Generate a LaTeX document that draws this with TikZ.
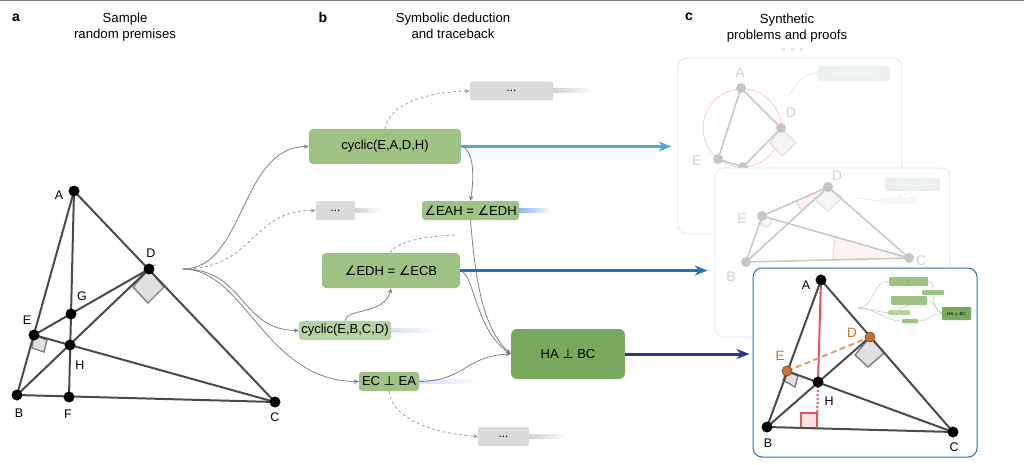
\documentclass[tikz,border=0pt]{standalone}
\usepackage{fontspec}
\setmainfont{Liberation Sans}
\newfontfamily\symfont{DejaVu Sans}
\usetikzlibrary{arrows.meta}
\definecolor{leafgreen}{HTML}{9DC284}
\definecolor{palegreen}{HTML}{B5D3A0}
\definecolor{deepgreen}{HTML}{79A95C}
\definecolor{dotsgrey}{HTML}{DADADA}
\definecolor{linkgrey}{HTML}{7F7F7F}
\definecolor{edgegrey}{HTML}{4A4A4A}
\definecolor{fadegrey}{HTML}{C6C6C6}
\definecolor{fadetext}{HTML}{D2D2D2}
\definecolor{skyarrow}{HTML}{55A6DE}
\definecolor{midarrow}{HTML}{2F6DB5}
\definecolor{navyarrow}{HTML}{2B3590}
\definecolor{proofred}{HTML}{D9595C}
\definecolor{prooforange}{HTML}{D0702C}
\definecolor{cardblue}{HTML}{DCE8F7}
\definecolor{tailblue}{HTML}{8FB4EE}
\definecolor{tailpale}{HTML}{D5E0F6}
\newcommand{\ang}{{\symfont ∠}}
\newcommand{\perpsym}{{\symfont ⊥}}
\newcommand{\pxfont}[1]{\fontsize{#1}{#1}\selectfont}
\tikzset{
    stmt/.style={fill=leafgreen, rounded corners=3pt, inner sep=0pt, text=black, font=\pxfont{13}},
    dotsbox/.style={fill=dotsgrey, rounded corners=2pt, inner sep=0pt, font=\pxfont{12}},
    heading/.style={align=center, font=\pxfont{13.2}, inner sep=0pt},
    panelmark/.style={font=\bfseries\pxfont{14}, inner sep=0pt},
    ptlabel/.style={font=\pxfont{12.5}, inner sep=0pt},
    fadelabel/.style={ptlabel, text=fadetext, font=\pxfont{14}},
    link/.style={draw=linkgrey, line width=0.8pt, -{Stealth[length=5pt,width=4.5pt]}},
    linkdash/.style={draw=linkgrey!75, line width=0.8pt, dash pattern=on 3pt off 2.5pt, -{Stealth[length=5pt,width=4.5pt]}},
    bigarrow/.style={line width=3pt, shorten >=#1, -{Stealth[length=13pt,width=10pt]}},
    edge/.style={draw=edgegrey, line width=2pt},
    fadeedge/.style={draw=fadegrey, line width=1.5pt},
    card/.style={rounded corners=9pt, fill=white, line width=0.8pt},
    mini/.style={rounded corners=1pt, inner sep=0pt},
    minilink/.style={draw=linkgrey!60, line width=0.35pt},
}
\newcommand{\tail}[4]{\shade[left color=#4, right color=white] (#1,#2-2) rectangle (#3,#2+2);}

\begin{document}
\begin{tikzpicture}[x=1pt,y=-1pt]

    \useasboundingbox (0,0) rectangle (1024,465);
    \fill[gray] (0,0) rectangle (1024,1.5);

    % headings
    \node[panelmark] (markA) at (16,18) {a};
    \node[panelmark] (markB) at (323,17) {b};
    \node[panelmark] (markC) at (689,17) {c};
    \node[heading] (headA) at (125,27) {Sample\\[2.5pt]random premises};
    \node[heading] (headB) at (453,26) {Symbolic deduction\\[2.5pt]and traceback};
    \node[heading] (headC) at (787,28) {Synthetic\\[2.5pt]problems and proofs};

    % a: the sampled figure
    \coordinate (A) at (74,191);
    \coordinate (B) at (17,395);
    \coordinate (C) at (275,402);
    \coordinate (D) at (149,269);
    \coordinate (E) at (34,335);
    \coordinate (F) at (69,397);
    \coordinate (G) at (71,314);
    \coordinate (H) at (70,345);

    \draw[fill=black!12, draw=black!50, line width=1.4pt] (133,287) -- (148,303) -- (164,287) -- (D) -- cycle;
    \draw[fill=black!12, draw=black!50, line width=1.4pt] (32,348) -- (44,352) -- (47,340) -- (E) -- cycle;
    \draw[edge] (A) -- (B) -- (C) -- (A);
    \draw[edge] (A) -- (F);
    \draw[edge] (B) -- (D) -- (E) -- (C);
    \foreach \i in {A,B,C,D,E,F,G,H}
        \fill[black] (\i) circle (5.5pt);
    \node[ptlabel] (labA) at (59,195) {A};
    \node[ptlabel] (labB) at (19,413) {B};
    \node[ptlabel] (labC) at (275,417) {C};
    \node[ptlabel] (labD) at (151,253) {D};
    \node[ptlabel] (labE) at (27,320) {E};
    \node[ptlabel] (labF) at (68,414) {F};
    \node[ptlabel] (labG) at (82,296) {G};
    \node[ptlabel] (labH) at (80,365) {H};

    % b: deduction boxes
    \coordinate (root) at (183,269);
    \tail{553}{91}{595}{black!18}
    \tail{355}{210.5}{380}{black!18}
    \tail{519}{210.5}{552}{tailblue}
    \tail{391}{330}{440}{tailpale}
    \tail{419}{381.5}{482}{tailpale}
    \tail{529}{436.5}{568}{black!18}
    \node[dotsbox, minimum width=83pt, minimum height=19pt] (dotsTop) at (511.5,91) {...};
    \node[dotsbox, minimum width=39pt, minimum height=19pt] (dotsMid) at (335.5,210.5) {...};
    \node[dotsbox, minimum width=51pt, minimum height=19pt] (dotsBot) at (503.5,436.5) {...};
    \node[stmt, minimum width=152pt, minimum height=35pt, rounded corners=4pt] (cycA) at (385,146.5) {cyclic(E,A,D,H)};
    \node[stmt, minimum width=97pt, minimum height=19pt] (angA) at (470.5,210.5) {\ang EAH = \ang EDH};
    \node[stmt, minimum width=138pt, minimum height=35pt, rounded corners=4pt] (angB) at (391,270.5) {\ang EDH = \ang ECB};
    \node[stmt, fill=palegreen, minimum width=92pt, minimum height=19pt] (cycB) at (345,330.5) {cyclic(E,B,C,D)};
    \node[stmt, minimum width=60pt, minimum height=19pt] (perpA) at (389,381.5) {EC \perpsym{} EA};
    \node[stmt, fill=deepgreen, minimum width=114pt, minimum height=50pt, rounded corners=6pt] (goal) at (568,354) {HA \perpsym{} BC};

    \draw[link] (root) .. controls (245,269) and (240,147) .. (cycA.west);
    \draw[linkdash] (root) .. controls (255,269) and (250,210) .. (dotsMid.west);
    \draw[link] (root) .. controls (245,269) and (240,330) .. (cycB.west);
    \draw[link] (root) .. controls (245,269) and (265,381) .. (perpA.west);
    \draw[linkdash] (cycA.north) .. controls (390,102) and (430,92) .. (dotsTop.west);
    \draw[link] (cycA.east) .. controls (470,148) and (476,165) .. (angA.north);
    \coordinate (fadeEnd) at (457,235);
    \draw[draw=linkgrey!75, line width=0.8pt, dash pattern=on 3pt off 2.5pt] (390,253) .. controls (397,240) and (430,236) .. (fadeEnd);
    \draw[link] (cycB.north) .. controls (346,308) and (385,315) .. (angB.south);
    \draw[linkdash] (perpA.south) .. controls (392,418) and (430,433) .. (dotsBot.west);
    \draw[link] (angA.south) .. controls (476,290) and (485,330) .. (goal.west);
    \draw[link] (angB.east) .. controls (475,275) and (475,330) .. (goal.west);
    \draw[link] (perpA.east) .. controls (465,381) and (465,356) .. (goal.west);

    % c: the three cards
    \node[card, draw=cardblue, minimum width=224pt, minimum height=176pt, inner sep=0pt] (cardA) at (790,146) {};
    \foreach \i in {783,792,801}
        \fill[cardblue] (\i-1.5,48.5) rectangle (\i+1.5,51.5);
    \coordinate (pA) at (741,88);
    \coordinate (pD) at (781,128);
    \coordinate (pE) at (718,159);
    \coordinate (pH) at (743,167);
    \draw[red!20, line width=0.9pt] (742,128) circle (39pt);
    \draw[fill=black!4, draw=black!12, line width=1.2pt] (770,143) -- (782,156) -- (796,143) -- (pD) -- cycle;
    \draw[fadeedge] (pH) -- (pE) -- (pA) -- (pD) -- (pH);
    \foreach \i in {pA,pD,pE,pH}
        \fill[fadegrey] (\i) circle (5pt);
    \node[fadelabel] (labpA) at (740,73) {A};
    \node[fadelabel] (labpD) at (791,113) {D};
    \node[fadelabel] (labpE) at (697,161) {E};
    \node[mini, fill=green!20!black!7, minimum width=72pt, minimum height=15pt, text=white, font=\pxfont{6}] (miniA) at (854,73.5) {cyclic(E,A,D,H)};
    \coordinate (miniAroot) at (788,97);
    \draw[minilink, draw=black!15, -{Stealth[length=2.5pt,width=2pt]}] (miniAroot) .. controls (795,85) and (803,73) .. (miniA.west);

    \node[card, draw=cardblue, minimum width=235pt, minimum height=169pt, inner sep=0pt] (cardB) at (832.5,252.5) {};
    \coordinate (qD) at (828,187);
    \coordinate (qE) at (762,216);
    \coordinate (qB) at (746,262);
    \coordinate (qC) at (909,258);
    \draw[fill=red!5, draw=none] (qC) -- ++(164:76pt) arc[start angle=164, end angle=181, radius=76pt] -- cycle;
    \draw[red!20, line width=1pt] (qC) ++(164:76pt) arc[start angle=164, end angle=181, radius=76pt];
    \draw[fill=red!5, draw=none] (qD) -- ++(204:35pt) arc[start angle=204, end angle=222, radius=35pt] -- cycle;
    \draw[red!20, line width=1pt] (qD) ++(204:35pt) arc[start angle=204, end angle=222, radius=35pt];
    \draw[fill=black!4, draw=black!12, line width=1.2pt] (816,201) -- (828,211) -- (842,198) -- (qD) -- cycle;
    \draw[fill=black!4, draw=black!12, line width=1.2pt] (761,225) -- (769,227) -- (772,219) -- (qE) -- cycle;
    \draw[fadeedge] (qE) -- (qD) -- (qC) -- (qB) -- (qD);
    \draw[fadeedge] (qB) -- (qE) -- (qC);
    \foreach \i in {qD,qE,qB,qC}
        \fill[fadegrey] (\i) circle (5pt);
    \node[fadelabel] (labqD) at (837,176) {D};
    \node[fadelabel] (labqE) at (742,219) {E};
    \node[fadelabel] (labqB) at (731,277) {B};
    \node[fadelabel] (labqC) at (921,261) {C};
    \node[mini, fill=green!20!black!8, minimum width=55pt, minimum height=13pt, text=white, font=\pxfont{5}] (miniB) at (912.5,184.5) {\ang EDH = \ang ECB};
    \node[mini, fill=green!20!black!4, minimum width=34pt, minimum height=7pt] (miniC) at (898,200.5) {};
    \coordinate (miniBroot) at (858,198);
    \draw[minilink, draw=black!15] (miniBroot) .. controls (865,199) and (872,201) .. (miniC.west);
    \draw[minilink, draw=black!15] (miniC.north) .. controls (900,194) and (910,196) .. (miniB.south);

    \node[card, draw=midarrow, minimum width=224pt, minimum height=189pt, inner sep=0pt, line width=1pt] (cardC) at (865,362.5) {};
    \coordinate (rA) at (821,280);
    \coordinate (rB) at (767,427);
    \coordinate (rC) at (953,432);
    \coordinate (rD) at (870,337);
    \coordinate (rE) at (787,371);
    \coordinate (rH) at (818,382);
    \coordinate (rF) at (817,428);
    \draw[fill=red!12, draw=proofred, line width=1.4pt] (801,428) -- (801,413) -- (817,413) -- (rF) -- cycle;
    \draw[fill=black!12, draw=black!50, line width=1.4pt] (855,355) -- (868,367) -- (884,353) -- (rD) -- cycle;
    \draw[fill=black!12, draw=black!50, line width=1.4pt] (783,380) -- (795,387) -- (798,376) -- (rE) -- cycle;
    \draw[edge] (rA) -- (rB) -- (rC) -- (rA);
    \draw[edge] (rB) -- (rD);
    \draw[edge] (rE) -- (rC);
    \draw[draw=proofred, line width=2pt] (rA) -- (rH);
    \draw[draw=proofred, line width=2pt, dash pattern=on 2pt off 2pt] (rH) -- (rF);
    \draw[draw=prooforange!70, line width=2pt, dash pattern=on 6pt off 3.5pt] (rE) -- (rD);
    \foreach \i in {rA,rB,rC,rH}
        \fill[black] (\i) circle (5.5pt);
    \foreach \i in {rD,rE}
        \draw[fill=prooforange, draw=black!70, line width=0.6pt] (\i) circle (5pt);
    \node[ptlabel] (labrA) at (806,285) {A};
    \node[ptlabel] (labrB) at (768,443) {B};
    \node[ptlabel] (labrC) at (954,447) {C};
    \node[ptlabel] (labrH) at (829,401) {H};
    \node[ptlabel, text=prooforange, font=\pxfont{13.5}] (labrD) at (852,333) {D};
    \node[ptlabel, text=prooforange, font=\pxfont{13.5}] (labrE) at (780,356) {E};

    % small copy of the tree inside the last card
    \coordinate (mroot) at (857,308);
    \node[mini, fill=leafgreen, minimum width=39pt, minimum height=9pt, font=\pxfont{3}] (m1) at (908.5,281.5) {...};
    \node[mini, fill=leafgreen, minimum width=22pt, minimum height=5pt] (m2) at (933,292.5) {};
    \node[mini, fill=leafgreen, minimum width=36pt, minimum height=9pt, font=\pxfont{3}] (m3) at (909,300.5) {...};
    \node[mini, fill=palegreen, minimum width=22pt, minimum height=5pt] (m4) at (899,312.5) {};
    \node[mini, fill=leafgreen, minimum width=16pt, minimum height=4.5pt] (m5) at (910,321) {};
    \node[mini, fill=deepgreen, minimum width=29pt, minimum height=13pt, font=\pxfont{4.5}] (m6) at (956.5,313.5) {HA \perpsym{} BC};
    \draw[minilink] (mroot) .. controls (875,308) and (872,281) .. (m1.west);
    \draw[minilink] (mroot) .. controls (872,308) and (875,312) .. (m4.west);
    \draw[minilink] (mroot) .. controls (875,308) and (885,321) .. (m5.west);
    \draw[minilink] (m1.east) .. controls (932,282) and (933,285) .. (m2.north);
    \draw[minilink] (m2.south) .. controls (934,305) and (936,310) .. (m6.west);
    \draw[minilink] (m3.east) .. controls (935,301) and (935,310) .. (m6.west);
    \draw[minilink] (m4.north) .. controls (899,308) and (905,307) .. (m3.south);
    \draw[minilink] (m5.east) .. controls (930,321) and (930,314) .. (m6.west);

    % arrows into the cards
    \draw[bigarrow=6pt, skyarrow] (cycA.east) -- (cardA.west |- cycA.east);
    \draw[bigarrow=7pt, midarrow] (angB.east) -- (cardB.west |- angB.east);
    \draw[bigarrow=3pt, navyarrow] (goal.east) -- (cardC.west |- goal.east);

\end{tikzpicture}
\end{document}
